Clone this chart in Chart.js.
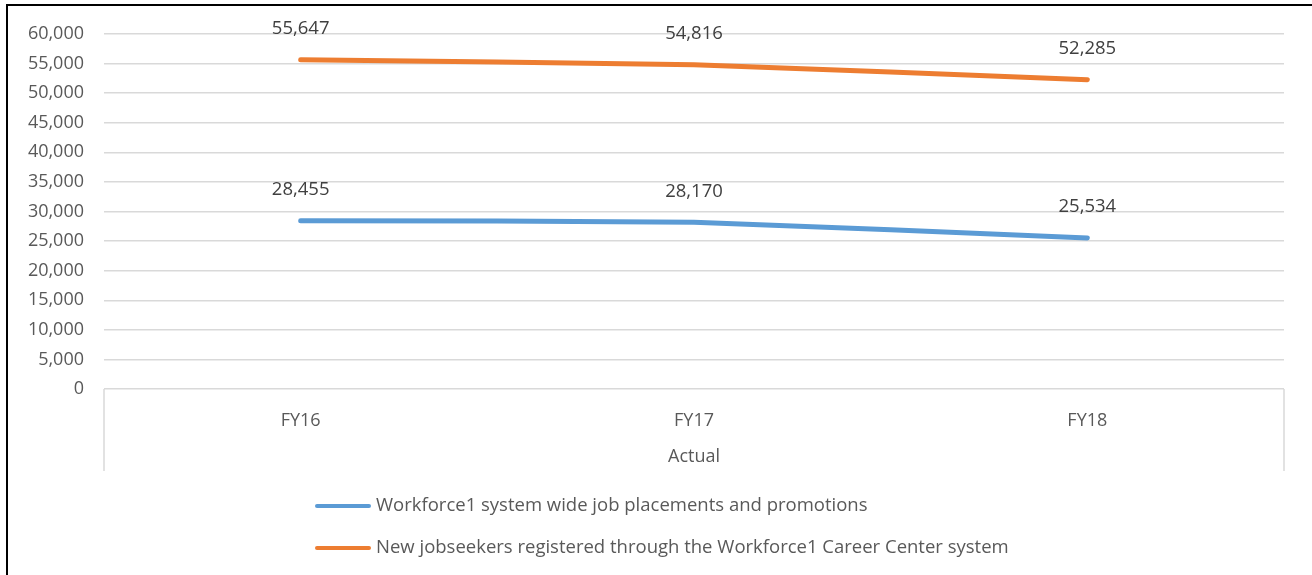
<!DOCTYPE html>
<html>
<head>
<meta charset="utf-8">
<script src="https://cdn.jsdelivr.net/npm/chart.js@4.4.0/dist/chart.umd.min.js"></script>
<style>
  html, body { margin: 0; padding: 0; background: #fff; }
  #wrap { position: relative; width: 1312px; height: 575px; }
</style>
</head>
<body>
<div id="wrap"><canvas id="myChart" width="1312" height="575"></canvas></div>
<script>
let categories = ['FY16', 'FY17', 'FY18'];
let placements = [28455, 28170, 25534];
let jobseekers = [55647, 54816, 52285];
let groupLabel = 'Actual';

let blue = '#5B9BD5';
let orange = '#ED7D31';
let fontFamily = "'Open Sans', sans-serif";

// frame, value labels, category group lines and the stacked legend
let extras = {
  id: 'extras',
  afterDraw(chart) {
    let c = chart.ctx;
    let area = chart.chartArea;
    c.save();
    // outer frame (top + left)
    c.strokeStyle = '#000';
    c.lineWidth = 2;
    c.beginPath();
    c.moveTo(7, 575);
    c.lineTo(7, 5);
    c.lineTo(1312, 5);
    c.stroke();

    // vertical group lines under the axis
    c.strokeStyle = '#d9d9d9';
    c.lineWidth = 1.5;
    c.beginPath();
    c.moveTo(area.left, area.bottom);
    c.lineTo(area.left, 471);
    c.moveTo(area.right, area.bottom);
    c.lineTo(area.right, 471);
    c.stroke();

    // data labels
    c.fillStyle = '#404040';
    c.font = '18.5px ' + fontFamily;
    c.textAlign = 'center';
    c.textBaseline = 'middle';
    chart.data.datasets.forEach((ds, i) => {
      chart.getDatasetMeta(i).data.forEach((pt, j) => {
        c.fillText(ds.data[j].toLocaleString('en-US'), pt.x, pt.y - 31);
      });
    });

    // legend, one item per row
    c.textAlign = 'left';
    c.fillStyle = '#595959';
    c.lineCap = 'round';
    chart.data.datasets.forEach((ds, i) => {
      let y = 506 + i * 42;
      c.strokeStyle = ds.borderColor;
      c.lineWidth = 4;
      c.beginPath();
      c.moveTo(317, y);
      c.lineTo(369, y);
      c.stroke();
      c.fillText(ds.label, 376, y);
    });
    c.restore();
  }
};

let ctx = document.getElementById('myChart').getContext('2d');
let myChart = new Chart(ctx, {
  type: 'line',
  data: {
    labels: categories,
    datasets: [
      {
        label: 'Workforce1 system wide job placements and promotions',
        data: placements,
        borderColor: blue,
        backgroundColor: blue,
        borderWidth: 5,
        borderCapStyle: 'round',
        pointRadius: 0,
        tension: 0.15
      },
      {
        label: 'New jobseekers registered through the Workforce1 Career Center system',
        data: jobseekers,
        borderColor: orange,
        backgroundColor: orange,
        borderWidth: 5,
        borderCapStyle: 'round',
        pointRadius: 0,
        tension: 0.15
      }
    ]
  },
  options: {
    responsive: false,
    animation: false,
    layout: { padding: { top: 34, right: 28, bottom: 96, left: 0 } },
    plugins: {
      legend: { display: false },
      tooltip: { enabled: false }
    },
    scales: {
      x: {
        offset: true,
        grid: { display: false },
        border: { display: false },
        ticks: {
          color: '#595959',
          padding: 13,
          font: { size: 18, family: fontFamily }
        },
        title: {
          display: true,
          text: groupLabel,
          color: '#595959',
          padding: { top: 10, bottom: 11 },
          font: { size: 18, family: fontFamily }
        },
        afterFit(s) { s.height = 90; }
      },
      y: {
        min: 0,
        max: 60000,
        grid: { color: '#d9d9d9', lineWidth: 1.5, drawTicks: false },
        border: { display: false },
        ticks: {
          stepSize: 5000,
          color: '#595959',
          padding: 20,
          font: { size: 18, family: fontFamily },
          callback: (v) => v.toLocaleString('en-US')
        },
        afterFit(s) { s.width = 104; }
      }
    }
  },
  plugins: [extras]
});
</script>
</body>
</html>
